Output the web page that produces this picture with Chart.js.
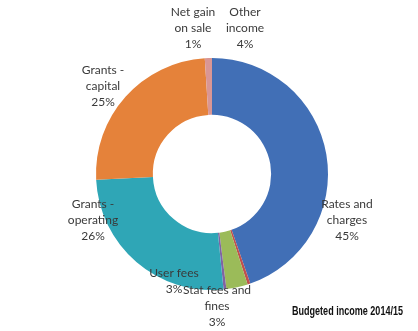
<!DOCTYPE html>
<html>
<head>
<meta charset="utf-8">
<script src="https://cdn.jsdelivr.net/npm/chart.js@4"></script>
<style>
  html, body { margin: 0; padding: 0; background: #fff; }
  #wrap { width: 418px; height: 331px; position: relative; }
</style>
</head>
<body>
<div id="wrap"><canvas id="incomeChart"></canvas></div>
<script>
// Budgeted income 2014/15 - slices clockwise from 12 o'clock
const categories = [
  "Rates and charges",
  "User fees",
  "Stat fees and fines",
  "Other income",
  "Grants - operating",
  "Grants - capital",
  "Net gain on sale",
];
const sliceValues = [45, 0.4, 3, 0.4, 26, 25, 1];
const sliceColors = ["#416FB6", "#C0504D", "#9BBB59", "#8064A2", "#2FA6B6", "#E5823A", "#D99694"];

// percentages printed in the labels
const labelPercent = [45, 3, 3, 4, 26, 25, 1];
const labelLines = [
  ["Rates and", "charges"],
  ["User fees"],
  ["Stat fees and", "fines"],
  ["Other", "income"],
  ["Grants -", "operating"],
  ["Grants -", "capital"],
  ["Net gain", "on sale"],
];
// text anchors (centre x, middle of first line)
const labelSpots = [
  [347, 204], [174, 273], [217, 290], [245, 12], [93, 204], [103, 70], [193, 12],
];

const calloutLabels = {
  id: "calloutLabels",
  afterDraw(chart) {
    const ctx = chart.ctx;
    ctx.save();
    ctx.font = "12px Lato";
    ctx.fillStyle = "#3a3a3a";
    ctx.textAlign = "center";
    ctx.textBaseline = "middle";
    labelLines.forEach((lines, i) => {
      const [x, y] = labelSpots[i];
      const all = lines.concat([labelPercent[i] + "%"]);
      all.forEach((t, j) => ctx.fillText(t, x, y + j * 16.3));
    });
    // title, bottom right, squeezed to a narrow face
    const title = "Budgeted income 2014/15";
    ctx.font = "bold 12px 'Liberation Sans', Arial, sans-serif";
    ctx.fillStyle = "#111";
    ctx.textAlign = "left";
    const w = ctx.measureText(title).width;
    ctx.translate(292, 312);
    ctx.scale(111 / w, 1);
    ctx.fillText(title, 0, 0);
    ctx.restore();
  },
};

new Chart(document.getElementById("incomeChart").getContext("2d"), {
  type: "doughnut",
  data: {
    labels: categories,
    datasets: [
      {
        data: sliceValues,
        backgroundColor: sliceColors,
        borderWidth: 0,
      },
    ],
  },
  options: {
    responsive: true,
    maintainAspectRatio: false,
    animation: false,
    cutout: "51%",
    layout: {
      padding: { left: 96, right: 90, top: 58, bottom: 41 },
    },
    plugins: {
      legend: { display: false },
      tooltip: { enabled: false },
    },
  },
  plugins: [calloutLabels],
});
</script>
</body>
</html>
